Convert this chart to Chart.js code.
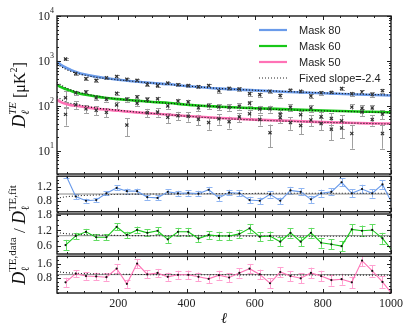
<!DOCTYPE html>
<html><head><meta charset="utf-8">
<script src="https://cdn.jsdelivr.net/npm/chart.js@4.4.0/dist/chart.umd.min.js"></script>
<style>
html,body{margin:0;padding:0;background:#fff;}
#wrap{position:relative;width:407px;height:326px;overflow:hidden;background:#fff;}
canvas{position:absolute;left:0;}
</style></head><body>
<div id="wrap">
<canvas id="c0" width="407" height="184" style="top:0px;width:407px;height:184px"></canvas>
<canvas id="c1" width="407" height="60" style="top:164px;width:407px;height:60px"></canvas>
<canvas id="c2" width="407" height="130" style="top:170px;width:407px;height:130px"></canvas>
<canvas id="c3" width="407" height="82" style="top:244px;width:407px;height:82px"></canvas>
</div>
<script>
// ---------------- DATA ----------------
const ell = [45,75,105,135,165,195,225,255,285,315,345,375,405,435,465,495,525,555,585,615,645,675,705,735,765,795,825,855,885,915,945,975,1005];

const dataBlue  = [1100,521,397,369,418,448,391,369,298,279,320,294,281,265,281,214,244,234,185,176,210,168,221,209,164,194,198,243,184,202,177,217,118];
const errBlue   = [71,39,29,27,25,27,25,24,23,22,21,20,22,21,20,19,19,21,20,20,19,19,20,20,19,19,19,20,20,21,21,21,22];
const dataGreen = [150,193,201,150,140,189,139,157,137,142,99,127,121,90,100,94,92,97,114,84,85,65,92,63,89,57,52,46,93,88,89,65,28];
const errGreen  = [59,23,19,18,16,18,16,17,16,17,16,17,16,15,15,15,15,15,15,15,15,15,15,15,15,15,15,15,15,15,15,15,15];
const dataPink  = [64,105,85,79,71,104,37,114,70,72,55,60,58,50,42,51,44,56,66,49,25,54,42,36,48,40,30,32,24,72,49,24,null];
const errPink   = [28,20,18,18,16,20,16,18,15,15,14,13,14,13,13,13,13,13,13,13,13,13,13,13,13,12,13,13,13,13,13,13,13];

const fitEll   = [20,30,45,60,80,100,130,160,200,250,300,350,400,500,600,700,800,900,1000,1010];
const fitBlue  = [965,830,710,630,550,500,450,415,380,345,320,300,275,240,220,202,190,178,169,168];
const fitGreen = [293,262,235,215,192,178,163,150,140,130,121,115,105,95,88,83,78,74,71,70];
const fitPink  = [136,122,110,103,99,93,87,82,77,71,67,63,59,53,49,46,43,41,40,40];

const slopeEll   = [20,45,80,130,200,300,500,700,1000];
const slopeBlue  = [849,653,523,437,376,320,242,206,172];
const slopeGreen = [328,254,202,168,141,121,94,81,70];
const slopePink  = [158,122,106,90,79,67,52,45,39];

const ratioBlue  = [1.55,0.93,0.81,0.83,1.02,1.17,1.08,1.08,0.91,0.89,1.06,1.02,1.03,1.01,1.12,0.89,1.04,1.02,0.83,0.81,0.99,0.81,1.1,1.06,0.85,1.02,1.06,1.33,1.02,1.14,1.02,1.27,0.7];
const rErrBlue   = [0.1,0.07,0.06,0.06,0.06,0.07,0.07,0.07,0.07,0.07,0.07,0.07,0.08,0.08,0.08,0.08,0.08,0.09,0.09,0.09,0.09,0.09,0.1,0.1,0.1,0.1,0.1,0.11,0.11,0.12,0.12,0.12,0.13];
const ratioGreen = [0.64,0.99,1.15,0.94,0.94,1.34,1.03,1.22,1.11,1.19,0.86,1.15,1.15,0.89,1.03,0.99,0.99,1.07,1.28,0.96,0.99,0.77,1.11,0.77,1.11,0.73,0.67,0.6,1.24,1.19,1.22,0.9,0.4];
const rErrGreen  = [0.2,0.12,0.11,0.11,0.11,0.13,0.12,0.13,0.13,0.14,0.14,0.15,0.15,0.15,0.15,0.16,0.16,0.16,0.17,0.17,0.17,0.18,0.18,0.18,0.19,0.19,0.19,0.2,0.2,0.2,0.21,0.21,0.22];
const ratioPink  = [0.58,1.05,0.92,0.9,0.86,1.33,0.5,1.6,1.01,1.09,0.88,0.99,0.99,0.88,0.77,0.97,0.84,1.09,1.32,1.01,0.53,1.14,0.92,0.8,1.09,0.92,0.7,0.75,0.58,1.76,1.2,0.6,-0.1];
const rErrPink   = [0.25,0.2,0.2,0.2,0.2,0.25,0.22,0.25,0.22,0.22,0.22,0.22,0.23,0.23,0.24,0.24,0.25,0.25,0.26,0.26,0.27,0.27,0.28,0.28,0.29,0.29,0.3,0.3,0.31,0.31,0.32,0.32,0.33];

const slopeRatioBlue  = [0.88,0.92,0.95,0.97,0.99,1.0,1.01,1.02,1.02];
const slopeRatioGreen = [1.12,1.08,1.05,1.03,1.01,1.0,0.99,0.98,0.98];
const slopeRatioPink  = [1.16,1.11,1.07,1.04,1.02,1.0,0.99,0.98,0.97];

const xTicks = [200,400,600,800,1000];
const logTicks = [10,100,1000,10000];
const r1Ticks = [0.8,1.2];
const r2Ticks = [0.6,1.2,1.8];
const r3Ticks = [0.8,1.6];
const legendLabels = ['Mask 80','Mask 60','Mask 50','Fixed slope=-2.4'];

// ---------------- STYLE ----------------
const BLUE='#6a9bea', GREEN='#18c818', PINK='#ff72b6';
const BLUE_E='#8fb5f2', GREEN_E='#62dc62', PINK_E='#ffa0d0';
const SERIF='"Liberation Serif", "DejaVu Serif", serif';

function xy(xs, ys){ return xs.map((x,i)=>({x:x, y:ys[i]})); }

const errPlugin = {
  id:'err',
  beforeDatasetsDraw(chart){
    const ctx=chart.ctx, a=chart.chartArea, xs=chart.scales.x, ys=chart.scales.y;
    ctx.save();
    ctx.beginPath(); ctx.rect(a.left,a.top,a.right-a.left,a.bottom-a.top); ctx.clip();
    chart.data.datasets.forEach(ds=>{
      if(!ds.errors) return;
      ctx.strokeStyle=ds.errColor; ctx.lineWidth=1;
      const cap=ds.cap||2.5;
      ds.data.forEach((p,i)=>{
        if(p.y==null) return;
        const e=ds.errors[i];
        const x=Math.round(xs.getPixelForValue(p.x))+0.5;
        const lo=p.y-e, hi=p.y+e;
        const ylo=(ys.type==='logarithmic' && lo<=0) ? a.bottom+20 : ys.getPixelForValue(lo);
        const yhi=ys.getPixelForValue(hi);
        ctx.beginPath();
        ctx.moveTo(x,ylo); ctx.lineTo(x,yhi);
        ctx.moveTo(x-cap,Math.round(ylo)+0.5); ctx.lineTo(x+cap,Math.round(ylo)+0.5);
        ctx.moveTo(x-cap,Math.round(yhi)+0.5); ctx.lineTo(x+cap,Math.round(yhi)+0.5);
        ctx.stroke();
      });
    });
    ctx.restore();
  }
};

const framePlugin = {
  id:'frame',
  afterDatasetsDraw(chart, args, opts){
    const ctx=chart.ctx, a=chart.chartArea, xs=chart.scales.x, ys=chart.scales.y;
    ctx.save();
    ctx.strokeStyle='#222'; ctx.lineWidth=1;
    ctx.beginPath();
    const xt=(v,len)=>{ const px=Math.round(xs.getPixelForValue(v))+0.5;
      ctx.moveTo(px,a.bottom); ctx.lineTo(px,a.bottom-len); ctx.moveTo(px,a.top); ctx.lineTo(px,a.top+len); };
    const yt=(v,len)=>{ const py=Math.round(ys.getPixelForValue(v))+0.5;
      ctx.moveTo(a.left,py); ctx.lineTo(a.left+len,py); ctx.moveTo(a.right,py); ctx.lineTo(a.right-len,py); };
    for(let v=50; v<1000; v+=50){ if(v%200!==0) xt(v,2); }
    xTicks.forEach(v=>xt(v,4));
    (opts.yMinor||[]).forEach(v=>yt(v,2));
    (opts.yMajor||[]).forEach(v=>yt(v,4));
    ctx.stroke();
    ctx.lineWidth=1.4; ctx.strokeStyle='#1a1a1a';
    ctx.strokeRect(a.left,a.top,a.right-a.left,a.bottom-a.top);
    ctx.restore();
  }
};

function mathLabel(ctx, items, cy, base){
  let w=0;
  items.forEach(it=>{
    ctx.font=it.f;
    if(it.sup!==undefined){ it.w=Math.max(ctx.measureText(it.sup).width, ctx.measureText(it.sub).width); }
    else it.w=ctx.measureText(it.t).width;
    w+=it.w;
  });
  ctx.save();
  ctx.translate(base, cy); ctx.rotate(-Math.PI/2);
  ctx.fillStyle='#111'; ctx.textBaseline='alphabetic'; ctx.textAlign='left';
  let x=-w/2;
  items.forEach(it=>{
    ctx.font=it.f;
    if(it.sup!==undefined){ ctx.fillText(it.sup,x,-9); ctx.fillText(it.sub,x,4); }
    else ctx.fillText(it.t,x,it.dy||0);
    x+=it.w;
  });
  ctx.restore();
}

const mainDecor = {
  id:'mainDecor',
  afterDraw(chart){
    const ctx=chart.ctx, ys=chart.scales.y, a=chart.chartArea;
    ctx.save(); ctx.fillStyle='#222'; ctx.textBaseline='middle';
    logTicks.forEach(v=>{
      const py=ys.getPixelForValue(v); const e=String(Math.round(Math.log10(v)));
      ctx.font='8px '+SERIF; const we=ctx.measureText(e).width;
      ctx.textAlign='right'; ctx.fillText(e, a.left-3, py-5);
      ctx.font='12px '+SERIF; ctx.fillText('10', a.left-3-we, py+1);
    });
    ctx.restore();
    const cols=[BLUE,GREEN,PINK,'#222'];
    ctx.save();
    legendLabels.forEach((t,i)=>{
      const y=30+i*16;
      ctx.beginPath(); ctx.strokeStyle=cols[i];
      if(i<3){ ctx.lineWidth=2.2; ctx.setLineDash([]); } else { ctx.lineWidth=1; ctx.setLineDash([1,2]); }
      ctx.moveTo(259,y); ctx.lineTo(287,y); ctx.stroke();
      ctx.setLineDash([]);
      ctx.fillStyle='#222'; ctx.font='11px "Liberation Sans", Arial, sans-serif';
      ctx.textBaseline='middle'; ctx.textAlign='left'; ctx.fillText(t,299,y+0.5);
    });
    ctx.restore();
    mathLabel(ctx,[
      {t:'D', f:'italic 18px '+SERIF},
      {sup:'TE', sub:'\u2113', f:'italic 11px '+SERIF},
      {t:' [\u03bcK', f:'16px '+SERIF},
      {t:'2', f:'10px '+SERIF, dy:-8},
      {t:']', f:'16px '+SERIF}
    ], 95, 25);
  }
};

const ratioDecor = {
  id:'ratioDecor',
  afterDraw(chart){
    // canvas c2 top is at page y 170; label centred at page y 235
    mathLabel(chart.ctx,[
      {t:'D', f:'italic 18px '+SERIF},
      {sup:'TE,data', sub:'\u2113', f:'11px '+SERIF},
      {t:' / ', f:'17px '+SERIF},
      {t:'D', f:'italic 18px '+SERIF},
      {sup:'TE,fit', sub:'\u2113', f:'11px '+SERIF}
    ], 65, 25);
  }
};

const ellDecor = {
  id:'ellDecor',
  afterDraw(chart){
    const ctx=chart.ctx, xs=chart.scales.x;
    ctx.save(); ctx.fillStyle='#111'; ctx.font='italic 15px '+SERIF; ctx.textAlign='center'; ctx.textBaseline='alphabetic';
    ctx.fillText('\u2113', (xs.left+xs.right)/2, 79);
    ctx.restore();
  }
};

function xScale(show){
  return { type:'linear', min:20, max:1000, display:show,
    afterBuildTicks: s=>{ s.ticks = xTicks.map(v=>({value:v})); },
    afterFit: s=>{ s.height = show ? 33 : 0; },
    grid:{display:false, drawTicks:false}, border:{display:false},
    ticks:{ font:{family:SERIF, size:12}, color:'#222', padding:4, maxRotation:0, autoSkip:false, callback:v=>String(v) } };
}
function rScale(min,max,labels){
  return { type:'linear', min:min, max:max,
    afterBuildTicks: s=>{ s.ticks = labels.map(v=>({value:v})); },
    afterFit: s=>{ s.width = 57; },
    grid:{display:false, drawTicks:false}, border:{display:false},
    ticks:{ font:{family:SERIF, size:12}, color:'#222', padding:5, callback:v=>Number(v).toFixed(1) } };
}
function minorSteps(min,max,step){ const out=[]; for(let v=Math.ceil(min/step)*step; v<=max+1e-9; v+=step) out.push(+v.toFixed(3)); return out; }

const common = { responsive:false, animation:false, events:[],
  plugins:{ legend:{display:false}, tooltip:{enabled:false} } };

// ---------------- MAIN PANEL ----------------
const logMinor=[]; [1,10,100,1000].forEach(d=>{ for(let k=2;k<=9;k++){ const v=k*d; if(v>=3 && v<=10000) logMinor.push(v);} });
function ptsDs(vals, errs){ return { data:xy(ell, vals), showLine:false, pointStyle:'crossRot', pointRadius:2.2,
  borderColor:'#333', backgroundColor:'#333', borderWidth:1.2, errors:errs, errColor:'#a0a0a0', cap:2.5 }; }
function lineDs(xs, ys, color, w, dash){ return { data:xy(xs, ys), borderColor:color, borderWidth:w, borderDash:dash||[],
  pointRadius:0, cubicInterpolationMode:'monotone', fill:false }; }

new Chart(document.getElementById('c0'), {
  type:'line',
  data:{ datasets:[
    ptsDs(dataBlue, errBlue), ptsDs(dataGreen, errGreen), ptsDs(dataPink, errPink),
    lineDs(slopeEll, slopeBlue, '#111', 1.2, [1,2]),
    lineDs(slopeEll, slopeGreen, '#111', 1.2, [1,2]),
    lineDs(slopeEll, slopePink, '#111', 1.2, [1,2]),
    lineDs(fitEll, fitBlue, BLUE, 2.6), lineDs(fitEll, fitGreen, GREEN, 2.6), lineDs(fitEll, fitPink, PINK, 2.6)
  ]},
  options:Object.assign({}, common, {
    layout:{ padding:{ left:0, right:16, top:16, bottom:10 } },
    scales:{ x:xScale(false),
      y:{ type:'logarithmic', min:3, max:10000,
        afterBuildTicks: s=>{ s.ticks = logTicks.map(v=>({value:v})); },
        afterFit: s=>{ s.width = 57; },
        grid:{display:false, drawTicks:false}, border:{display:false}, ticks:{display:false} } },
    plugins:Object.assign({}, common.plugins, { frame:{ yMajor:logTicks, yMinor:logMinor } })
  }),
  plugins:[errPlugin, framePlugin, mainDecor]
});

// ---------------- RATIO PANELS ----------------
function ratioChart(id, vals, errs, color, ecolor, slopeVals, min, max, labels, minorStep, showX, extra, pad){
  return new Chart(document.getElementById(id), {
    type:'line',
    data:{ datasets:[
      { data:xy(ell, vals), borderColor:color, borderWidth:1.1, pointRadius:1.1, pointBackgroundColor:'#111',
        pointBorderWidth:0, errors:errs, errColor:ecolor, cap:3, clip:0, tension:0 },
      { data:xy(slopeEll, slopeVals), borderColor:'#222', borderWidth:1.1, borderDash:[1,2], pointRadius:0, cubicInterpolationMode:'monotone', clip:0 },
      { data:[{x:20,y:1},{x:1000,y:1}], borderColor:'#8a8a8a', borderWidth:1, pointRadius:0, clip:0 }
    ]},
    options:Object.assign({}, common, {
      layout:{ padding:pad },
      scales:{ x:xScale(showX), y:rScale(min,max,labels) },
      plugins:Object.assign({}, common.plugins, { frame:{ yMajor:labels, yMinor:minorSteps(min,max,minorStep) } })
    }),
    plugins:[errPlugin, framePlugin].concat(extra)
  });
}
ratioChart('c1', ratioBlue, rErrBlue, BLUE, BLUE_E, slopeRatioBlue, 0.5, 1.5, r1Ticks, 0.1, false, [], {left:0,right:16,top:10,bottom:10});
ratioChart('c2', ratioGreen, rErrGreen, GREEN, GREEN_E, slopeRatioGreen, 0.3, 1.83, r2Ticks, 0.2, false, [ratioDecor], {left:0,right:16,top:44,bottom:46});
ratioChart('c3', ratioPink, rErrPink, PINK, PINK_E, slopeRatioPink, 0, 2, r3Ticks, 0.2, true, [ellDecor], {left:0,right:16,top:10,bottom:0});
</script>
</body></html>
